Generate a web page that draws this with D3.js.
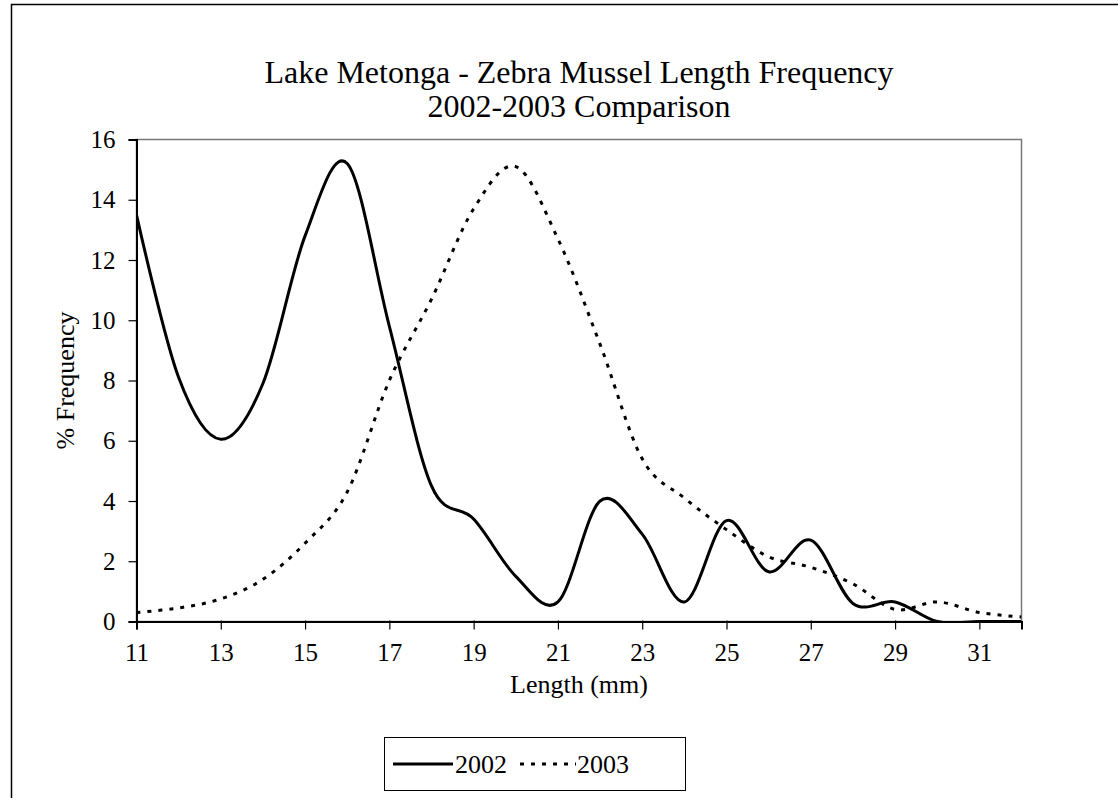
<!doctype html>
<html>
<head>
<meta charset="utf-8">
<script src="https://d3js.org/d3.v7.min.js"></script>
<style>
  body { margin: 0; background: #fff; }
  text { font-family: "Times New Roman", "Liberation Serif", serif; fill: #000; }
</style>
</head>
<body>
<svg width="1118" height="798"></svg>
<script>
// lengths in mm (one point per mm)
var lengths = [11,12,13,14,15,16,17,18,19,20,21,22,23,24,25,26,27,28,29,30,31,32];
// % frequency
var freq2002 = [13.5,8.1,6.05,7.9,12.8,15.2,9.8,4.5,3.4,1.5,0.65,4.0,2.9,0.65,3.35,1.65,2.7,0.6,0.65,0,0,0];
var freq2003 = [0.3,0.45,0.75,1.4,2.6,4.3,8.0,10.7,13.7,15.1,12.7,9.2,5.4,4.1,3.05,2.15,1.8,1.25,0.4,0.65,0.3,0.15];
var xTicks = [11,13,15,17,19,21,23,25,27,29,31];
var yTicks = [0,2,4,6,8,10,12,14,16];
var seriesNames = ["2002", "2003"];

var svg = d3.select("svg");
var fontFam = "Times New Roman, Liberation Serif, serif";

// outer chart border (only top and left are inside the picture)
svg.append("path")
   .attr("d", "M11.5,798 L11.5,4.5 L1118,4.5")
   .attr("fill", "none")
   .attr("stroke", "#000")
   .attr("stroke-width", 1.5);

var pLeft = 136.5, pRight = 1021.5, pTop = 139.5, pBottom = 621.5;

var x = d3.scaleLinear().domain([11, 32]).range([pLeft, pRight]);
var y = d3.scaleLinear().domain([0, 16]).range([pBottom, pTop]);

// title
svg.append("text")
   .attr("x", 579).attr("y", 83)
   .attr("text-anchor", "middle")
   .attr("font-size", "32px")
   .text("Lake Metonga - Zebra Mussel Length Frequency");
svg.append("text")
   .attr("x", 579).attr("y", 117)
   .attr("text-anchor", "middle")
   .attr("font-size", "32px")
   .text("2002-2003 Comparison");

// plot frame
svg.append("rect")
   .attr("x", pLeft).attr("y", pTop)
   .attr("width", pRight - pLeft).attr("height", pBottom - pTop)
   .attr("fill", "none")
   .attr("stroke", "#777")
   .attr("stroke-width", 1.5);

// y axis
var yAxis = svg.append("g")
   .attr("transform", "translate(" + pLeft + ",0)")
   .call(d3.axisLeft(y).tickValues(yTicks).tickSize(8).tickPadding(13));
yAxis.select(".domain").attr("stroke", "#000").attr("stroke-width", 2);
yAxis.selectAll(".tick line").attr("stroke", "#000").attr("stroke-width", 1.2);
yAxis.selectAll("text").attr("font-size", "25px").attr("font-family", fontFam).attr("fill", "#000");

// x axis
var xAxis = svg.append("g")
   .attr("transform", "translate(0," + pBottom + ")")
   .call(d3.axisBottom(x).tickValues(xTicks).tickSize(8).tickPadding(14));
xAxis.selectAll(".tick line").attr("y1", -1).attr("y2", 8).attr("stroke", "#000").attr("stroke-width", 1.2);
xAxis.select(".domain").attr("stroke", "#000").attr("stroke-width", 2);
xAxis.selectAll("text").attr("font-size", "25px").attr("font-family", fontFam).attr("fill", "#000");

// axis titles
svg.append("text")
   .attr("transform", "translate(74," + ((pTop + pBottom) / 2) + ") rotate(-90)")
   .attr("text-anchor", "middle")
   .attr("font-size", "26px")
   .text("% Frequency");
svg.append("text")
   .attr("x", (pLeft + pRight) / 2).attr("y", 693)
   .attr("text-anchor", "middle")
   .attr("font-size", "26px")
   .text("Length (mm)");

// lines
var line = d3.line()
   .x(function(d) { return x(d[0]); })
   .y(function(d) { return y(d[1]); })
   .curve(d3.curveCatmullRom.alpha(0));

svg.append("clipPath").attr("id", "plotclip")
   .append("rect")
   .attr("x", pLeft).attr("y", pTop - 5)
   .attr("width", pRight - pLeft).attr("height", pBottom - pTop + 5);

svg.append("path")
   .datum(d3.zip(lengths, freq2003))
   .attr("d", line)
   .attr("fill", "none")
   .attr("stroke", "#000")
   .attr("stroke-width", 3)
   .attr("stroke-dasharray", "4,7")
   .attr("clip-path", "url(#plotclip)");

svg.append("path")
   .datum(d3.zip(lengths, freq2002))
   .attr("d", line)
   .attr("fill", "none")
   .attr("stroke", "#000")
   .attr("stroke-width", 3)
   .attr("clip-path", "url(#plotclip)");

// legend
var lg = svg.append("g");
lg.append("rect")
  .attr("x", 384.5).attr("y", 737.5)
  .attr("width", 301).attr("height", 53)
  .attr("fill", "#fff")
  .attr("stroke", "#000")
  .attr("stroke-width", 1);
lg.append("line")
  .attr("x1", 393).attr("x2", 453).attr("y1", 764).attr("y2", 764)
  .attr("stroke", "#000").attr("stroke-width", 3);
lg.append("text")
  .attr("x", 455).attr("y", 773)
  .attr("font-size", "26px")
  .text(seriesNames[0]);
lg.append("line")
  .attr("x1", 520).attr("x2", 576).attr("y1", 764).attr("y2", 764)
  .attr("stroke", "#000").attr("stroke-width", 3)
  .attr("stroke-dasharray", "4,7");
lg.append("text")
  .attr("x", 577).attr("y", 773)
  .attr("font-size", "26px")
  .text(seriesNames[1]);
</script>
</body>
</html>
